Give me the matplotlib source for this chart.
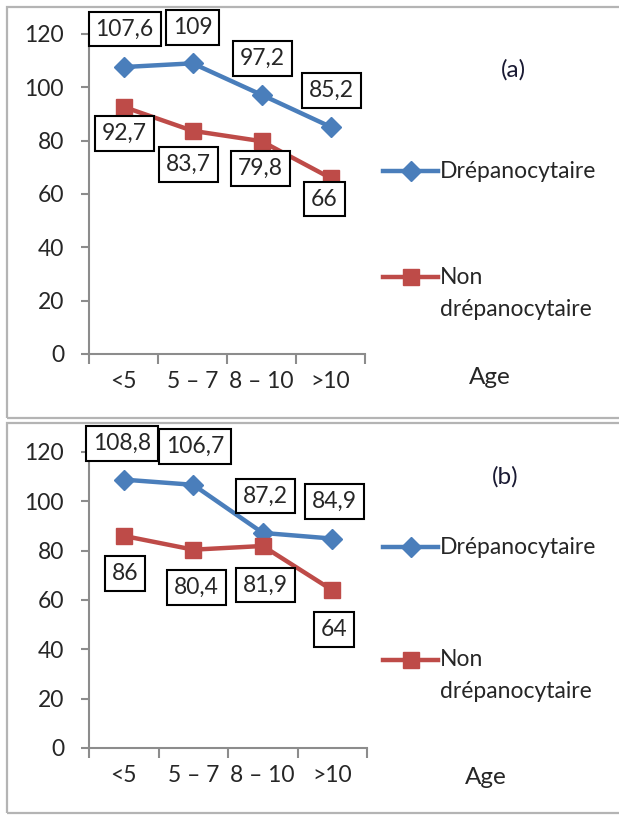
import matplotlib
matplotlib.use("Agg")
import matplotlib.pyplot as plt
from matplotlib.lines import Line2D
from matplotlib.patches import Rectangle

plt.rcParams['font.family'] = ['Lato', 'DejaVu Sans']

# data
ages = ['<5', '5 – 7', '8 – 10', '>10']
drep_a = [107.6, 109, 97.2, 85.2]
nondrep_a = [92.7, 83.7, 79.8, 66]
drep_b = [108.8, 106.7, 87.2, 84.9]
nondrep_b = [86, 80.4, 81.9, 64]
yticks = [0, 20, 40, 60, 80, 100, 120]

# label box offsets in pixels (dx, dy), placed by hand like the original
off_drep_a = [(1, 38), (0, 36), (1, 36), (1, 36)]
off_non_a = [(1, -27), (-4, -34), (-1, -27), (-6, -21)]
off_drep_b = [(-2, 36), (2, 38), (3, 37), (2, 37)]
off_non_b = [(1, -38), (3, -38), (3, -39), (2, -39)]

W, H = 619, 815
BLUE = '#4a7ebb'
RED = '#be4b48'
GRAY = '#8c8c8c'
TXT = '#262626'
FS = 16.5

fig = plt.figure(figsize=(W / 100, H / 100), dpi=100)


def fx(x):
    return x / W


def fy(y):
    return 1 - y / H


def fmt(v):
    s = ('%g' % v).replace('.', ',')
    return s


def panel(rect, drep, nondrep, off_d, off_n, tag, tag_xy, leg_y, age_xy):
    ax = fig.add_axes(rect)
    x = list(range(len(ages)))
    ax.plot(x, drep, color=BLUE, lw=3.2, marker='D', ms=10, zorder=3)
    ax.plot(x, nondrep, color=RED, lw=3.2, marker='s', ms=12, zorder=3)
    for vals, offs in ((drep, off_d), (nondrep, off_n)):
        for xi, v, (dx, dy) in zip(x, vals, offs):
            ax.annotate(fmt(v), (xi, v), xytext=(dx, dy), textcoords='offset pixels',
                        ha='center', va='center', fontsize=FS, color=TXT, zorder=5,
                        annotation_clip=False,
                        bbox=dict(boxstyle='square,pad=0.3', fc='white', ec='black', lw=1.5))
    ax.set_xlim(-0.5, len(ages) - 0.5)
    ax.set_ylim(0, 120)
    ax.set_yticks(yticks)
    ax.set_xticks([i - 0.5 for i in range(len(ages) + 1)])
    ax.set_xticklabels([])
    ax.set_xticks(x, minor=True)
    ax.set_xticklabels(ages, minor=True)
    ax.tick_params(axis='x', which='major', direction='out', length=7, width=1.5, color=GRAY)
    ax.tick_params(axis='x', which='minor', length=0, pad=12, labelsize=FS, labelcolor=TXT)
    ax.tick_params(axis='y', direction='out', length=6, width=1.5, color=GRAY, pad=12,
                   labelsize=FS, labelcolor=TXT)
    for s in ('top', 'right'):
        ax.spines[s].set_visible(False)
    for s in ('left', 'bottom'):
        ax.spines[s].set_color(GRAY)
        ax.spines[s].set_linewidth(1.5)
    ax.patch.set_alpha(0)

    # legend drawn by hand (Excel-style, marker line + wrapped text)
    y1, y2 = leg_y
    for yy, col, mk, ms in ((y1, BLUE, 'D', 10), (y2, RED, 's', 12)):
        fig.add_artist(Line2D([fx(383), fx(438)], [fy(yy), fy(yy)], color=col, lw=3.2,
                              transform=fig.transFigure))
        fig.add_artist(Line2D([fx(410.5)], [fy(yy)], color=col, marker=mk, ms=ms,
                              transform=fig.transFigure))
    fig.text(fx(440), fy(y1), 'Drépanocytaire', fontsize=FS, color=TXT, va='center', ha='left')
    fig.text(fx(440), fy(y2), 'Non', fontsize=FS, color=TXT, va='center', ha='left')
    fig.text(fx(440), fy(y2 + 32), 'drépanocytaire', fontsize=FS, color=TXT, va='center', ha='left')
    fig.text(fx(tag_xy[0]), fy(tag_xy[1]), tag, fontsize=FS + 1, color='#1a1a33', ha='center', va='center')
    fig.text(fx(age_xy[0]), fy(age_xy[1]), 'Age', fontsize=FS + 1, color=TXT, ha='center', va='center')
    return ax


panel([fx(89), fy(354), (365 - 89) / W, (354 - 34) / H], drep_a, nondrep_a,
      off_drep_a, off_non_a, '(a)', (513, 70), (171, 277), (490, 378))
panel([fx(89), fy(748), (367 - 89) / W, (748 - 452) / H], drep_b, nondrep_b,
      off_drep_b, off_non_b, '(b)', (505, 477), (547, 660), (486, 777))

# panel frames
for top, bot in ((7, 418), (423, 813)):
    fig.add_artist(Rectangle((fx(7), fy(bot)), fx(700), (bot - top) / H, fill=False,
                             ec='#b4b4b4', lw=1.6, transform=fig.transFigure))

fig.savefig('out.png', dpi=100)
